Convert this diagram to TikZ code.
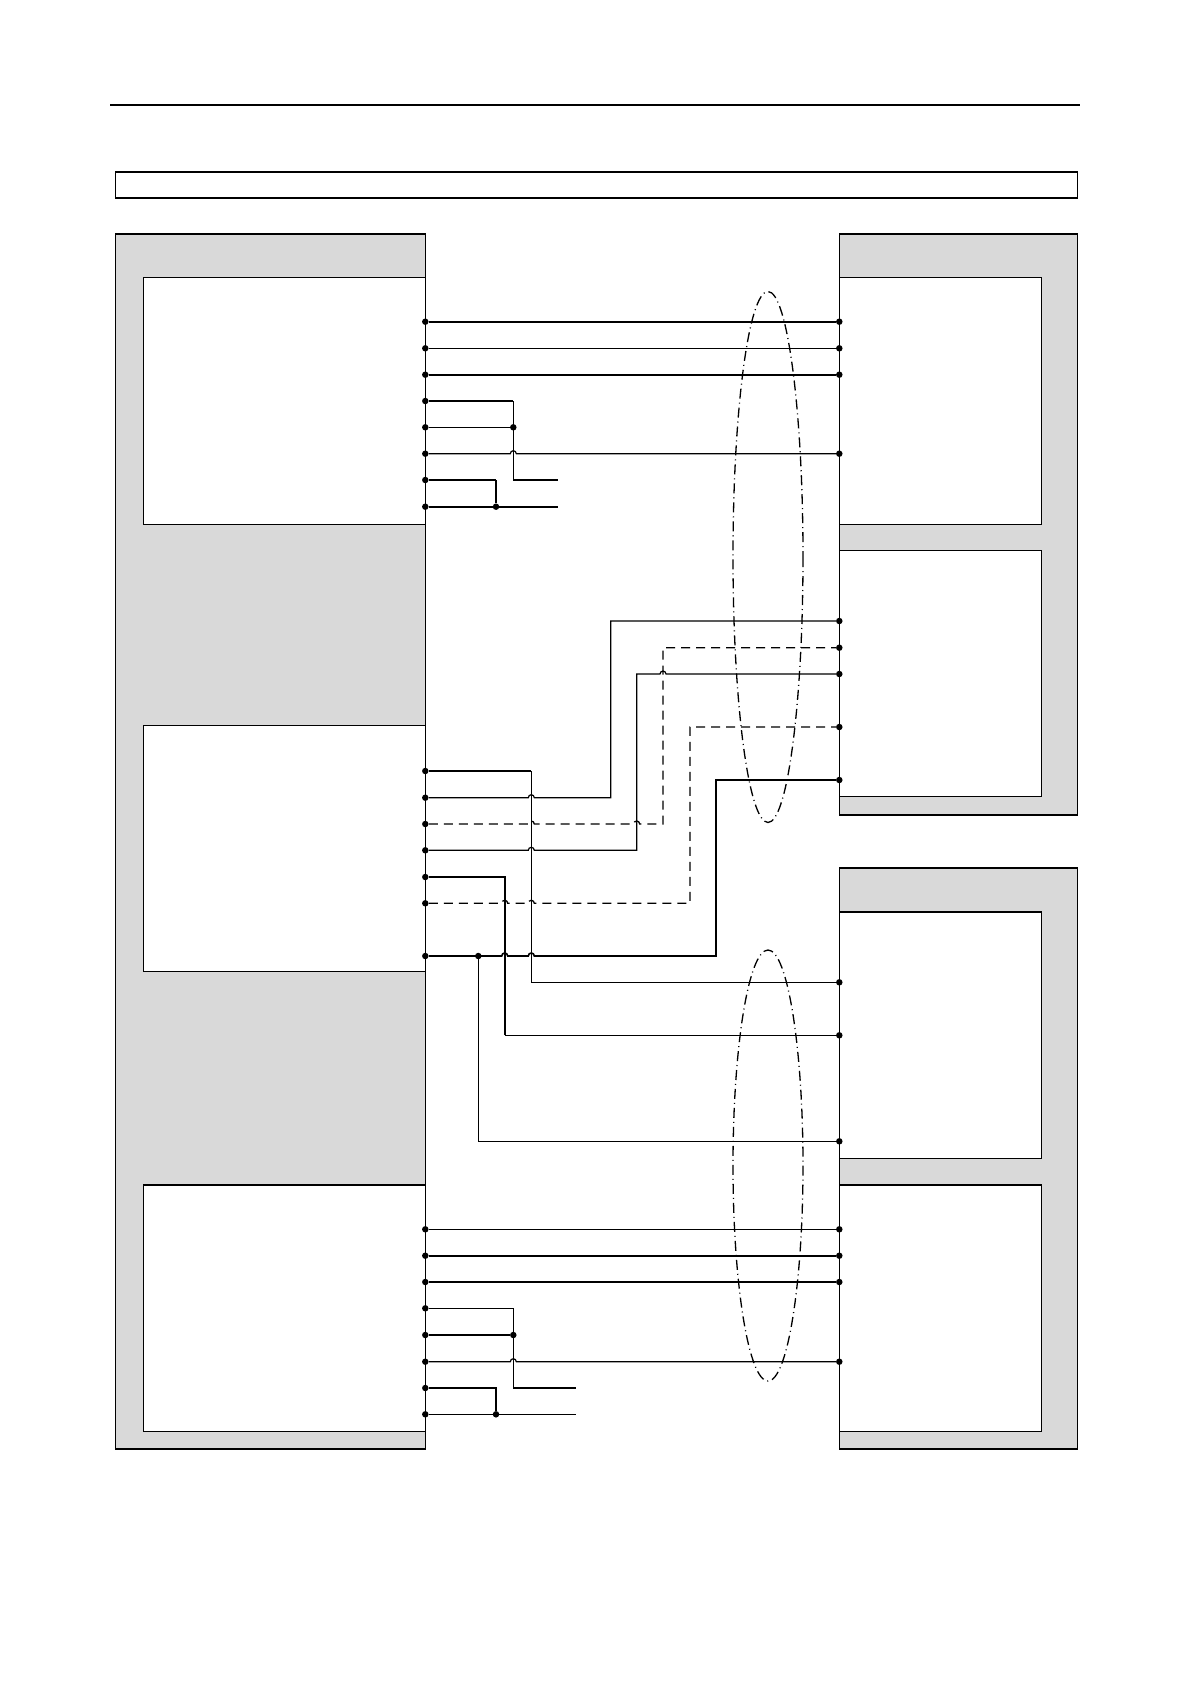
\documentclass[tikz,border=0pt]{standalone}
\usepackage{tikz}
\usepackage{xcolor}
\definecolor{panelgray}{HTML}{D9D9D9}
\newcommand{\wirehop}{arc[start angle=180,end angle=360,radius=3]}
\tikzset{
  wire/.style={line width=1.2pt},
  heavy/.style={line width=2.4pt},
  dashwire/.style={line width=1.3pt, dash pattern=on 9pt off 6pt},
  pin/.style={circle, fill=black, inner sep=0pt, minimum size=6.5pt},
  panel/.style={fill=panelgray, draw, line width=1.2pt},
  box/.style={fill=white, draw, line width=1.4pt},
  shield/.style={line width=1.3pt, dash pattern=on 10pt off 4pt on 1pt off 4pt}
}
\begin{document}
\begin{tikzpicture}[x=1pt,y=-1pt]
    \useasboundingbox (0,0) rectangle (1191,1684);

    % Header
    \draw[line width=1.3pt] (110,105) -- (1080,105);
    \draw[line width=1.3pt] (115.3,171.7) rectangle (1077.3,198);
    \draw[heavy] (115.3,171.7) -- (1077.3,171.7);

    % Left panel
    \draw[panel] (115.3,234) rectangle (425.3,1449);
    \draw[heavy] (115.3,234) -- (425.3,234);
    \draw[box] (143.3,277.7) rectangle (425.3,524.3);
    \draw[box] (143.3,725.3) rectangle (425.3,971.7);
    \draw[box] (143.3,1185) rectangle (425.3,1431.7);

    % Right panels
    \draw[panel] (839.3,234) rectangle (1077.3,815);
    \draw[heavy] (839.3,234) -- (1077.3,234);
    \draw[box] (839.3,277.7) rectangle (1041.7,524.3);
    \draw[box] (839.3,550.7) rectangle (1041.7,796.7);
    \draw[panel] (839.3,867.7) rectangle (1077.3,1449);
    \draw[heavy] (839.3,867.7) -- (1077.3,867.7);
    \draw[box] (839.3,912) rectangle (1041.7,1158.6);
    \draw[box] (839.3,1185) rectangle (1041.7,1431.7);
    \draw[line width=1.2pt] (425.3,234) -- (425.3,1449);

    % Pins
    \foreach \n/\y in {1/321.7,2/348.3,3/374.7,4/401,5/427.3,6/453.7,7/480,8/506.7}
      \node[pin] (la\n) at (425.3,\y) {};
    \foreach \n/\y in {1/771,2/797.7,3/824,4/850.3,5/877,6/903.3,7/956}
      \node[pin] (lb\n) at (425.3,\y) {};
    \foreach \n/\y in {1/1229.3,2/1255.7,3/1282,4/1308.3,5/1335,6/1361.7,7/1388,8/1414.3}
      \node[pin] (ld\n) at (425.3,\y) {};
    \foreach \n/\y in {1/321.7,2/348.3,3/374.7,4/453.7}
      \node[pin] (ra\n) at (839.3,\y) {};
    \foreach \n/\y in {1/621,2/647.7,3/674,4/727,5/780}
      \node[pin] (rb\n) at (839.3,\y) {};
    \foreach \n/\y in {1/982.3,2/1035.3,3/1141.3}
      \node[pin] (rc\n) at (839.3,\y) {};
    \foreach \n/\y in {1/1229.3,2/1255.7,3/1282,4/1361.7}
      \node[pin] (rd\n) at (839.3,\y) {};

    % Junctions
    \node[pin] (ja) at (513.3,427.3) {};
    \node[pin] (jb) at (496,506.7) {};
    \node[pin] (jc) at (478.3,956) {};
    \node[pin] (jd) at (513.3,1335) {};
    \node[pin] (je) at (496,1414.3) {};
    \coordinate (ea) at (557.7,480);
    \coordinate (eb) at (557.7,506.7);
    \coordinate (ec) at (575.7,1388);
    \coordinate (ed) at (575.7,1414.3);

    % Upper group
    \draw[heavy] (la1) -- (ra1);
    \draw[wire] (la2) -- (ra2);
    \draw[heavy] (la3) -- (ra3);
    \draw[heavy] (la4) -- (513.3,401);
    \draw[wire] (513.3,401) -- (513.3,480) -- (ea);
    \draw[wire] (la5) -- (ja);
    \draw[wire] (la6) -- (510.3,453.7) \wirehop -- (ra4);
    \draw[wire] (la7) -- (496,480);
    \draw[heavy] (496,480) -- (jb);
    \draw[heavy] (la8) -- (eb);

    % Middle group
    \draw[heavy] (lb1) -- (531.3,771);
    \draw[wire] (531.3,771) |- (rc1);
    \draw[wire] (lb2) -- (528.3,797.7) \wirehop -- (610.7,797.7) |- (rb1);
    \draw[dashwire] (lb3) -- (528.3,824) \wirehop -- (633.7,824) \wirehop -- (663,824) |- (rb2);
    \draw[wire] (lb4) -- (528.3,850.3) \wirehop -- (636.7,850.3) -- (636.7,674) -- (660,674) \wirehop -- (rb3);
    \draw[heavy] (lb5) -- (504.7,877) -- (504.7,1035.3);
    \draw[wire] (504.7,1035.3) -- (rc2);
    \draw[dashwire] (lb6) -- (501.7,903.3) \wirehop -- (528.3,903.3) \wirehop -- (690,903.3) |- (rb4);
    \draw[line width=1.6pt] (lb7) -- (501.7,956) \wirehop -- (528.3,956) \wirehop -- (716,956) |- (rb5);
    \draw[wire] (jc) |- (rc3);

    % Lower group
    \draw[wire] (ld1) -- (rd1);
    \draw[heavy] (ld2) -- (rd2);
    \draw[heavy] (ld3) -- (rd3);
    \draw[wire] (ld4) -- (513.3,1308.3) -- (513.3,1388);
    \draw[heavy] (513.3,1388) -- (ec);
    \draw[heavy] (ld5) -- (jd);
    \draw[wire] (ld6) -- (510.3,1361.7) \wirehop -- (rd4);
    \draw[heavy] (ld7) -| (je);
    \draw[wire] (ld8) -- (ed);

    % Shields
    \draw[shield] (768,557) ellipse [x radius=35, y radius=265.5];
    \draw[shield] (768,1165.5) ellipse [x radius=35, y radius=215.5];
\end{tikzpicture}
\end{document}
